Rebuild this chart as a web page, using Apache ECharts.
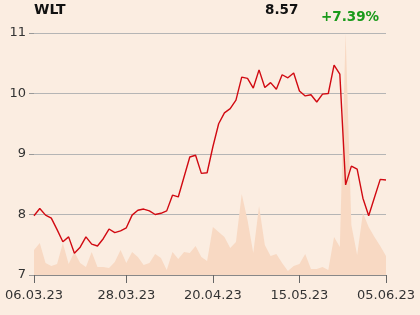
<!DOCTYPE html>
<html>
<head>
<meta charset="utf-8">
<script src="https://cdn.jsdelivr.net/npm/echarts@6/dist/echarts.min.js"></script>
<style>
html,body{margin:0;padding:0;background:#fbede1;}
#c{width:420px;height:315px;}
</style>
</head>
<body>
<div id="c"></div>
<script>
var ticker = 'WLT';
var lastPrice = '8.57';
var changePct = '+7.39%';
var xTickLabels = [[0,'06.03.23'],[16,'28.03.23'],[31,'20.04.23'],[46,'15.05.23'],[61,'05.06.23']];
var yTicks = [7, 8, 9, 10, 11];
var prices = [7.98,8.10,7.99,7.94,7.75,7.55,7.63,7.36,7.46,7.63,7.51,7.48,7.60,7.76,7.70,7.73,7.78,7.99,8.07,8.09,
  8.06,8.00,8.02,8.06,8.32,8.29,8.62,8.95,8.98,8.68,8.69,9.12,9.50,9.68,9.75,9.89,10.27,10.25,10.09,10.39,
  10.10,10.18,10.07,10.31,10.26,10.34,10.04,9.96,9.98,9.86,9.99,10.00,10.47,10.32,8.49,8.80,8.75,8.27,7.98,8.28,
  8.58,8.57];
var volumes = [25,32,12,9,11,32,11,23,12,8,23,8,8,7,13,25,12,23,18,10,
  12,21,17,5,23,16,23,22,29,18,14,48,43,38,27,33,81,55,22,69,
  30,19,21,12,4,9,11,21,6,6,8,5,38,28,242,50,20,62,48,38,
  29,19];

var categories = prices.map(function(_, i){ return i; });
var labelMap = {};
xTickLabels.forEach(function(p){ labelMap[p[0]] = p[1]; });
var showIdx = function(i){ return labelMap.hasOwnProperty(i); };

var chart = echarts.init(document.getElementById('c'), null, {renderer:'canvas'});
var font = 'DejaVu Sans';
chart.setOption({
  backgroundColor: '#fbede1',
  animation: false,
  textStyle: {fontFamily: font},
  title: [
    {text: ticker, left: 34, top: 3, padding: 0, textStyle: {fontFamily: font, fontSize: 14, fontWeight: 'bold', color: '#111'}},
    {text: lastPrice, left: 265, top: 3, padding: 0, textStyle: {fontFamily: font, fontSize: 13.5, fontWeight: 'bold', color: '#111'}},
    {text: changePct, left: 321, top: 10, padding: 0, textStyle: {fontFamily: font, fontSize: 13.5, fontWeight: 'bold', color: '#1a9a1a'}}
  ],
  grid: {left: 34, right: 34, top: 33, bottom: 40, containLabel: false},
  xAxis: {
    type: 'category',
    data: categories,
    boundaryGap: false,
    axisLine: {show: true, lineStyle: {color: '#888', width: 1}},
    axisTick: {show: true, interval: function(i){ return showIdx(i); }, length: 8, lineStyle: {color: '#666'}},
    axisLabel: {
      interval: function(i){ return showIdx(i); },
      formatter: function(v){ return labelMap[v] || ''; },
      color: '#333', fontSize: 13, fontFamily: font, margin: 14
    },
    splitLine: {show: false}
  },
  yAxis: [
    {
      type: 'value', min: yTicks[0], max: yTicks[yTicks.length-1], interval: 1,
      axisLine: {show: false},
      axisTick: {show: true, length: 5, lineStyle: {color: '#999'}},
      axisLabel: {color: '#333', fontSize: 13, fontFamily: font, margin: 8},
      splitLine: {show: true, lineStyle: {color: '#b5b5b5', width: 1}}
    },
    {
      type: 'value', min: 0, max: 242, show: false,
      splitLine: {show: false}
    }
  ],
  series: [
    {
      type: 'line', yAxisIndex: 1, data: volumes, symbol: 'none',
      lineStyle: {width: 0}, areaStyle: {color: '#f8d9c3', opacity: 1},
      z: 1, silent: true
    },
    {
      type: 'line', yAxisIndex: 0, data: prices, symbol: 'none',
      lineStyle: {color: '#d10a12', width: 1.4},
      z: 3
    }
  ]
});
</script>
</body>
</html>
